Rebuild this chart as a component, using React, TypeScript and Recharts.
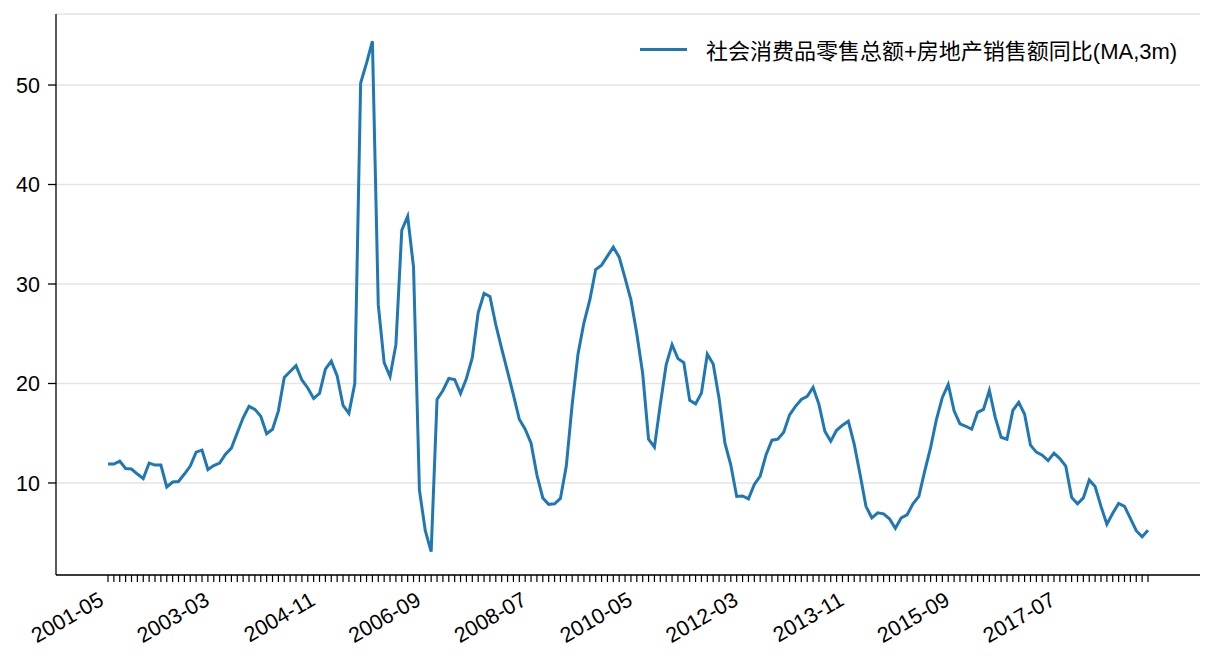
import React from "react";
import { LineChart, Line, XAxis, YAxis, CartesianGrid } from "recharts";

// monthly data, Jan/Feb missing every year (Mar..Dec only)
const MONTHS: string[] = [];
for (let y = 2001; y <= 2018; y++) {
  for (let m = 3; m <= 12; m++) {
    if (y === 2001 && m < 5) continue;
    MONTHS.push(`${y}-${String(m).padStart(2, "0")}`);
  }
}

const TICK_LABELS = [
  "2001-05", "2003-03", "2004-11", "2006-09", "2008-07",
  "2010-05", "2012-03", "2013-11", "2015-09", "2017-07",
];

const Y_TICKS = [10, 20, 30, 40, 50];

const SERIES_NAME = "社会消费品零售总额+房地产销售额同比(MA,3m)";

const VALUES = [
  11.9, 11.9, 12.2, 11.45, 11.4, 10.9, 10.45, 12.0, 11.8, 11.8,
  9.6, 10.1, 10.15, 10.9, 11.7, 13.1, 13.3, 11.35, 11.75, 12.0,
  12.9, 13.5, 15.05, 16.55, 17.7, 17.4, 16.7, 14.95, 15.4, 17.25,
  20.6, 21.2, 21.8, 20.35, 19.55, 18.5, 19.0, 21.45, 22.25, 20.75,
  17.8, 17.0, 20.0, 50.2, 52.2, 54.4, 27.9, 22.1, 20.7, 23.9,
  35.4, 36.8, 31.7, 9.3, 5.2, 3.1, 18.4, 19.3, 20.5, 20.4,
  19.0, 20.5, 22.6, 27.1, 29.05, 28.75, 25.9, 23.5, 21.2, 18.85,
  16.4, 15.4, 14.0, 10.8, 8.5, 7.85, 7.9, 8.45, 11.7, 17.9,
  23.0, 26.1, 28.4, 31.45, 31.9, 32.8, 33.7, 32.7, 30.6, 28.4,
  25.0, 21.0, 14.4, 13.6, 17.9, 21.9, 23.9, 22.5, 22.1, 18.3,
  17.95, 19.05, 22.95, 21.95, 18.5, 14.0, 11.8, 8.65, 8.7, 8.4,
  9.85, 10.7, 12.85, 14.3, 14.4, 15.1, 16.85, 17.7, 18.4, 18.7,
  19.6, 17.9, 15.2, 14.2, 15.3, 15.8, 16.2, 13.9, 10.85, 7.65,
  6.5, 7.0, 6.9, 6.4, 5.45, 6.5, 6.8, 7.9, 8.65, 11.2,
  13.55, 16.4, 18.6, 19.9, 17.25, 15.95, 15.7, 15.4, 17.1, 17.4,
  19.3, 16.6, 14.6, 14.4, 17.3, 18.1, 16.9, 13.8, 13.1, 12.8,
  12.25, 13.0, 12.45, 11.7, 8.55, 7.9, 8.5, 10.3, 9.65, 7.65,
  5.85, 6.95, 7.95, 7.65, 6.45, 5.2, 4.6, 5.25,
];

const data = MONTHS.map((month, i) => ({ idx: i, month, value: VALUES[i] }));
const allTicks = data.map((d) => d.idx);

const FONT = "'Liberation Sans', Arial, 'Noto Sans CJK SC', sans-serif";
const BLUE = "#1f77b4";

const XTick = (props: any) => {
  const { x, y, payload } = props;
  const label = MONTHS[payload.value];
  if (!TICK_LABELS.includes(label)) return <g />;
  const ex = x - 3;
  const ey = y + 20;
  return (
    <text
      x={ex}
      y={ey}
      textAnchor="end"
      fontSize={21.5}
      fontFamily={FONT}
      fill="#000"
      transform={`rotate(-30, ${ex}, ${ey})`}
    >
      {label}
    </text>
  );
};

export default function App() {
  return (
    <div
      style={{
        position: "absolute",
        left: 0,
        top: 0,
        width: 1216,
        height: 672,
        background: "#fff",
      }}
    >
      <LineChart
        width={1216}
        height={672}
        data={data}
        margin={{ top: 14, right: 16, bottom: 0, left: 0 }}
      >
        <CartesianGrid vertical={false} stroke="#e5e5e5" strokeWidth={1.5} />
        <XAxis
          type="number"
          dataKey="idx"
          domain={[-8.85, 185.85]}
          allowDataOverflow
          ticks={allTicks}
          interval={0}
          height={97}
          tickSize={7}
          tickMargin={2}
          tick={<XTick />}
          axisLine={{ stroke: "#000", strokeWidth: 1.3 }}
          tickLine={{ stroke: "#000", strokeWidth: 1.2 }}
        />
        <YAxis
          type="number"
          domain={[0.75, 57.14]}
          allowDataOverflow
          ticks={Y_TICKS}
          width={56}
          tickSize={8}
          tickMargin={8}
          tick={{ fill: "#000", fontSize: 21.5, fontFamily: FONT }}
          axisLine={{ stroke: "#000", strokeWidth: 1.3 }}
          tickLine={{ stroke: "#000", strokeWidth: 1.3 }}
        />
        <Line
          type="linear"
          dataKey="value"
          stroke={BLUE}
          strokeWidth={3}
          dot={false}
          isAnimationActive={false}
        />
      </LineChart>
      <div
        style={{
          position: "absolute",
          left: 640,
          top: 33,
          display: "flex",
          alignItems: "center",
          fontFamily: FONT,
          fontSize: 22,
          color: "#000",
          whiteSpace: "nowrap",
        }}
      >
        <span
          style={{
            display: "inline-block",
            width: 47,
            height: 3,
            background: BLUE,
            marginRight: 19,
          }}
        />
        <span>{SERIES_NAME}</span>
      </div>
    </div>
  );
}
